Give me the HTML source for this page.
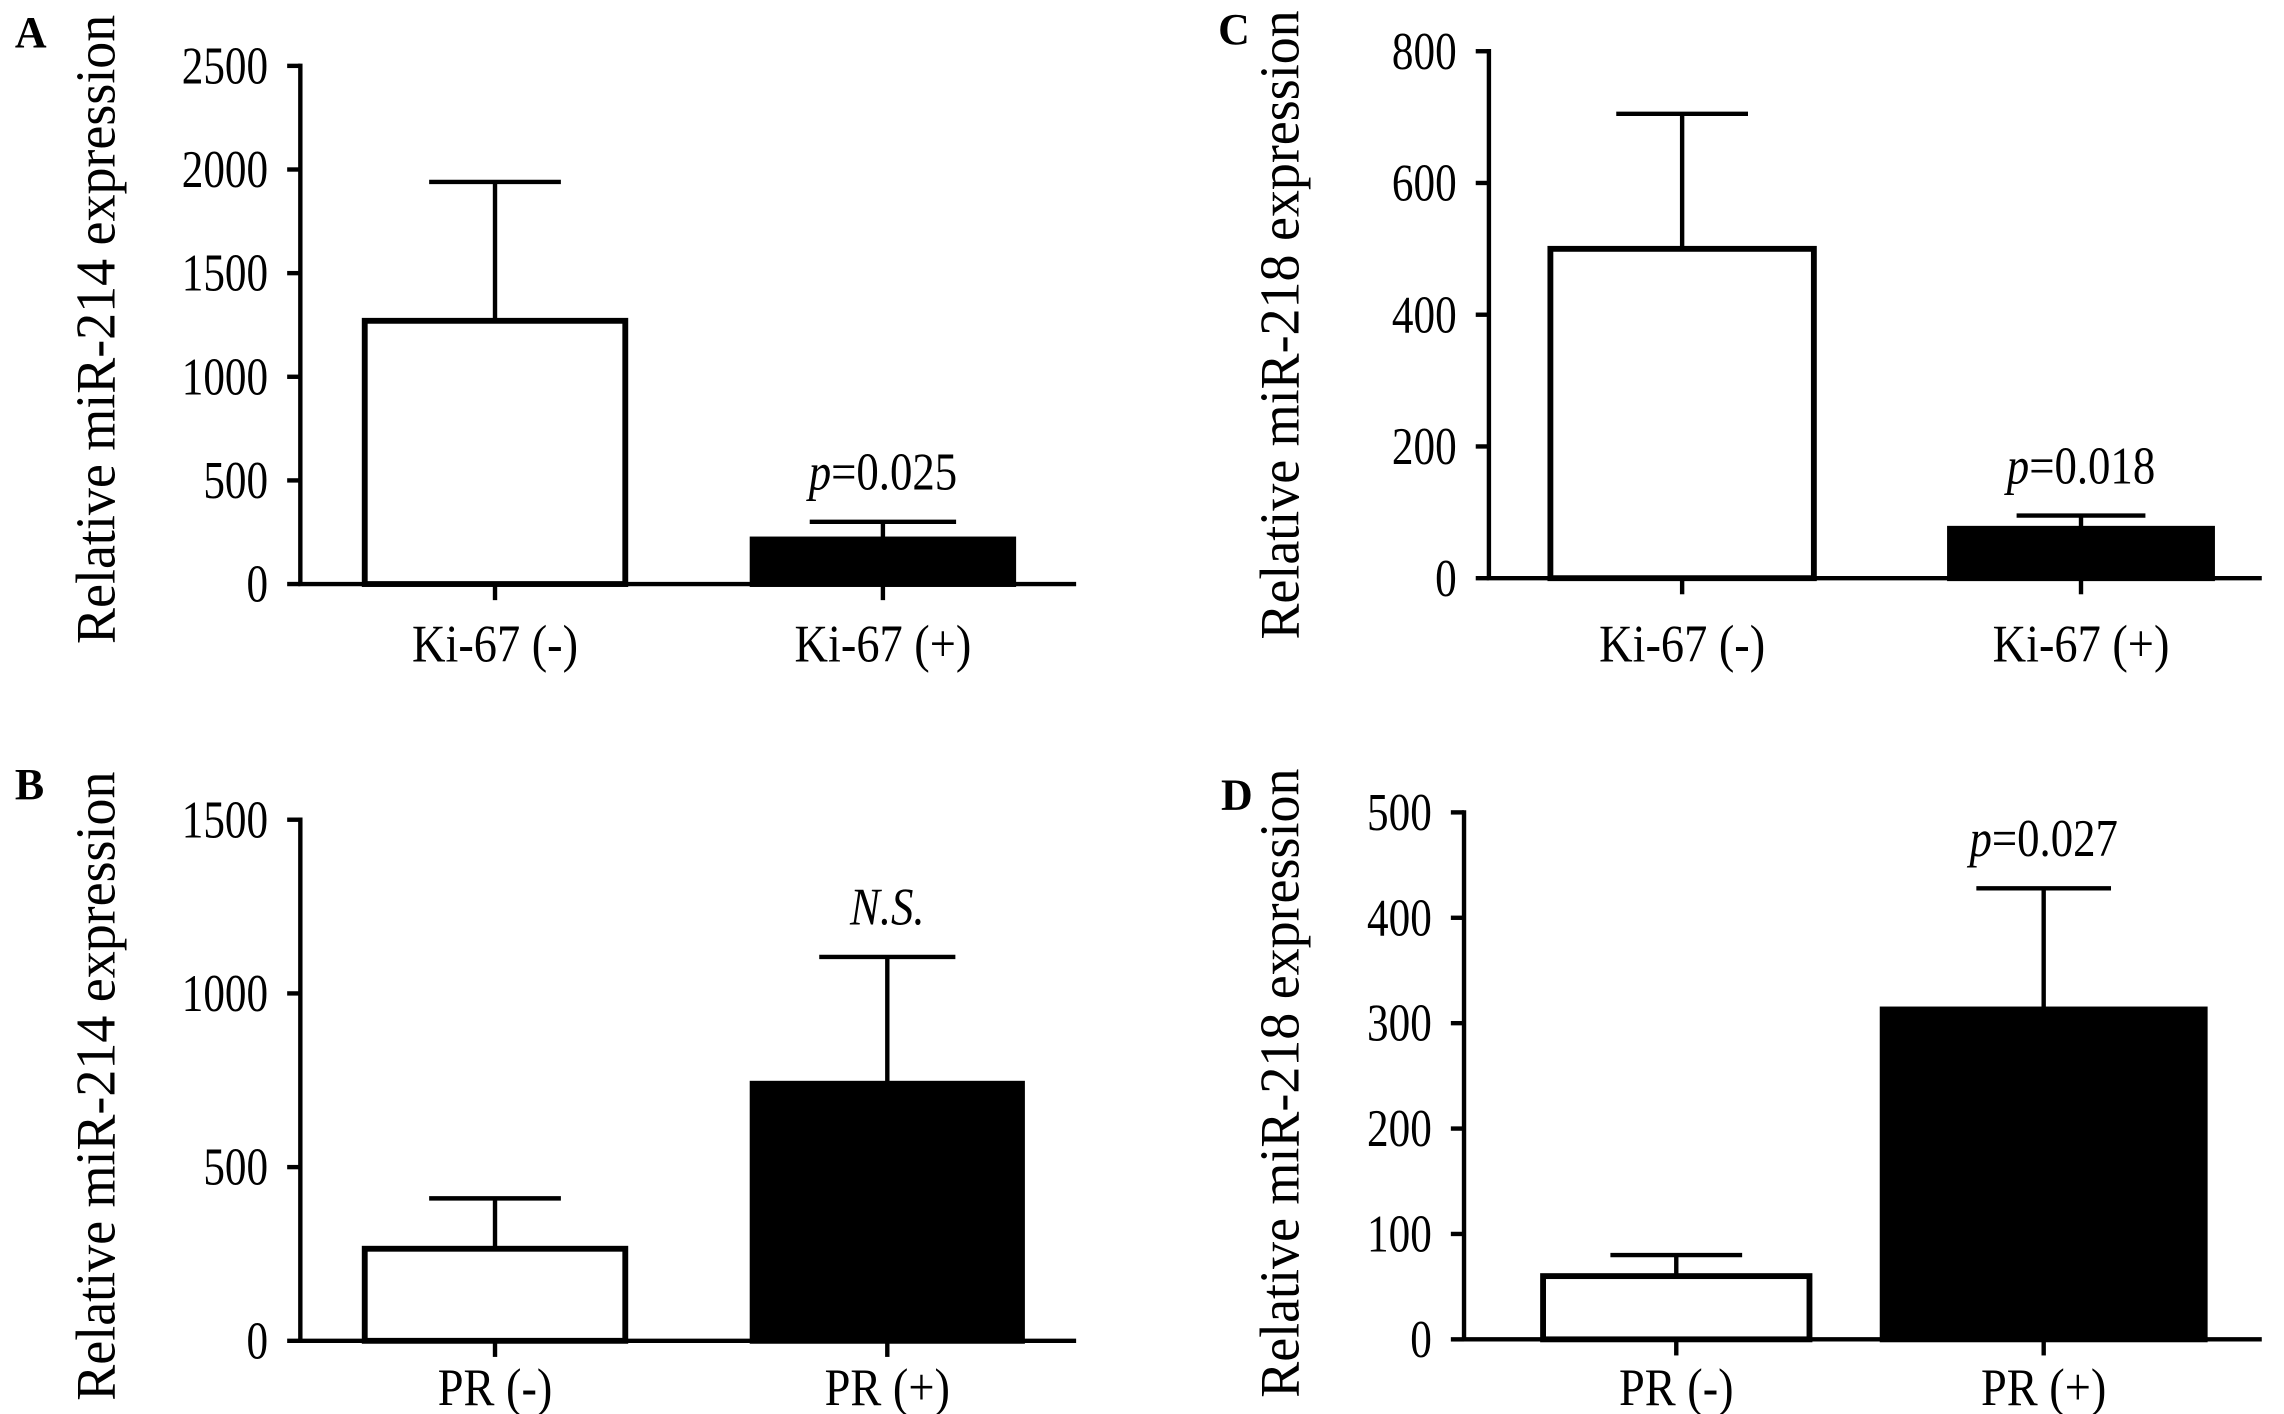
<!DOCTYPE html>
<html><head><meta charset="utf-8"><style>
html,body{margin:0;padding:0;background:#fff}
svg{display:block}
text{font-family:"Liberation Serif",serif;fill:#000}
</style></head><body>
<svg id="fig" width="2284" height="1414" viewBox="0 0 1560 966" xmlns="http://www.w3.org/2000/svg"></svg>
<script>
const catsA=["Ki-67 (-)","Ki-67 (+)"], valsA=[1270,215], errsA=[1940,300], ticksA=[0,500,1000,1500,2000,2500];
const catsB=["PR (-)","PR (+)"], valsB=[265,740], errsB=[410,1105], ticksB=[0,500,1000,1500];
const catsC=["Ki-67 (-)","Ki-67 (+)"], valsC=[500,75], errsC=[705,95], ticksC=[0,200,400,600,800];
const catsD=["PR (-)","PR (+)"], valsD=[60,313], errsD=[80,428], ticksD=[0,100,200,300,400,500];
const notesA=["","p=0.025"], notesB=["","N.S."], notesC=["","p=0.018"], notesD=["","p=0.027"];

const NS="http://www.w3.org/2000/svg", svg=document.getElementById('fig');
function mk(tag,attrs,parent){const e=document.createElementNS(NS,tag);for(const k in attrs)e.setAttribute(k,attrs[k]);(parent||svg).appendChild(e);return e;}
function txt(parent,x,y,size,anchor,sx,rot){
 return mk('text',{x:0,y:0,'font-size':size,'text-anchor':anchor,transform:`translate(${x},${y})${rot?' rotate(-90)':''} scale(${sx},1)`},parent);
}

const layouts={
 A:{letter:[10,32],ax:205,top:45,zero:399,xEnd:735,max:2500,bars:[[249,427],[514,692]],caps:[90,100],title:"Relative miR-214 expression",tx:78,ty:225,labY:452},
 B:{letter:[10,546],ax:205,top:560,zero:916,xEnd:735,max:1500,bars:[[249,427],[514,698]],caps:[90,93],title:"Relative miR-214 expression",tx:78,ty:742,labY:960},
 C:{letter:[832,30],ax:1017,top:35,zero:395,xEnd:1545,max:800,bars:[[1059,1239],[1332,1511]],caps:[90,88],title:"Relative miR-218 expression",tx:887,ty:222,labY:452},
 D:{letter:[834,553],ax:1000,top:555,zero:915,xEnd:1545,max:500,bars:[[1054,1236],[1286,1506]],caps:[90,92],title:"Relative miR-218 expression",tx:887,ty:740,labY:960}
};
const data={A:[catsA,valsA,errsA,ticksA,notesA],B:[catsB,valsB,errsB,ticksB,notesB],C:[catsC,valsC,errsC,ticksC,notesC],D:[catsD,valsD,errsD,ticksD,notesD]};

for(const key of ["A","B","C","D"]){
 const L=layouts[key],[cats,vals,errs,ticks,notes]=data[key];
 const g=mk('g',{});
 
 
 const y=v=>L.zero-(v/L.max)*(L.zero-L.top);
 const lt=mk('text',{x:L.letter[0],y:L.letter[1],'font-size':30,'font-weight':'bold'},g);lt.textContent=key;
 
 
 const tt=txt(g,L.tx,L.ty,38,'middle',0.97,true);tt.textContent=L.title;
 
 
 const ya=mk('line',{x1:L.ax,y1:L.top-1.5,x2:L.ax,y2:L.zero,stroke:'#000','stroke-width':3},g);
 
 
 for(const t of ticks){
  const tk=mk('line',{x1:L.ax-9,y1:y(t),x2:L.ax,y2:y(t),stroke:'#000','stroke-width':3},g);
  
  
  const tl=txt(g,L.ax-22,y(t)+12,36,'end',0.82,false);tl.textContent=t;
  
  
 }
 cats.forEach((c,i)=>{
  const [x0,x1]=L.bars[i],cx=(x0+x1)/2,cw=L.caps[i];
  const el=mk('line',{x1:cx,y1:y(errs[i]),x2:cx,y2:y(vals[i]),stroke:'#000','stroke-width':3},g);
  
  
  const cp=mk('line',{x1:cx-cw/2,y1:y(errs[i]),x2:cx+cw/2,y2:y(errs[i]),stroke:'#000','stroke-width':3},g);
  
  
  const b=mk('rect',{x:x0,y:y(vals[i]),width:x1-x0,height:L.zero-y(vals[i]),fill:i?'#000':'#fff',stroke:'#000','stroke-width':4},g);
  
  
  const xt=mk('line',{x1:cx,y1:L.zero,x2:cx,y2:L.zero+11,stroke:'#000','stroke-width':3},g);
  
  
  const xl=txt(g,cx,L.labY,36,'middle',0.88,false);xl.textContent=c;
  
  
  if(notes[i]){
   const n=txt(g,cx,y(errs[i])-22,36,'middle',0.85,false);
   if(notes[i].startsWith('p=')){
    const s=mk('tspan',{'font-style':'italic'},n);s.textContent='p';
    const s2=mk('tspan',{},n);s2.textContent=notes[i].slice(1);
   } else {n.setAttribute('font-style','italic');n.textContent=notes[i];}
   
   
  }
 });
 const xa=mk('line',{x1:L.ax-1.5,y1:L.zero,x2:L.xEnd,y2:L.zero,stroke:'#000','stroke-width':3},g);
 
 
}
</script>
</body></html>
